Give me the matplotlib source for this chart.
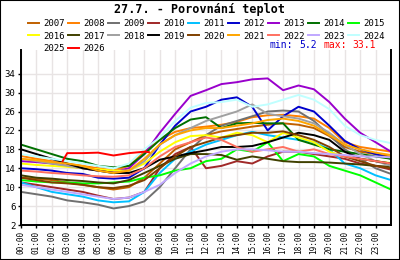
import matplotlib
matplotlib.use("Agg")
import matplotlib.pyplot as plt
from matplotlib.patches import Rectangle

hours = list(range(25))
hour_labels = [f"{h:02d}:00" for h in range(24)]
y_ticks = [2, 6, 10, 14, 18, 22, 26, 30, 34]

years = [str(y) for y in range(2007, 2027)]
colors = ["#C06000", "#FF8000", "#707070", "#A02828", "#00C0FF", "#0000CC",
          "#9900CC", "#007000", "#00FF00", "#FFFF00", "#404000", "#A0A0A0",
          "#000000", "#804000", "#FFA500", "#FF7060", "#C0A8FF", "#C0FFFF",
          "#FFFFFF", "#FF0000"]

t2007 = [12, 11.8, 11.5, 11, 10.5, 10, 9.5, 10, 12, 15, 18, 19.5, 21, 21.8, 22.3, 22.8, 23.2, 23.5, 23.2, 22.5, 20.8, 18.5, 17.5, 17, 16.4]
t2008 = [16.6, 16, 15.5, 15, 14.5, 14, 13.5, 14.5, 17.5, 20, 21.7, 22.5, 22.8, 23.2, 23.8, 24.8, 25.2, 25.3, 25, 24.5, 22.5, 19.5, 18.5, 18, 17.5]
t2009 = [9, 8.5, 8, 7.2, 6.8, 6.3, 5.5, 6, 7, 10, 14, 18, 21, 23, 24, 25, 26, 26.2, 26, 24, 21, 18, 16, 14, 12.8]
t2010 = [11, 10.5, 10, 9.5, 9, 8.2, 7.5, 7.8, 9, 14, 17, 18.5, 14, 14.5, 15.5, 15, 16.5, 17.5, 17.5, 17, 16.5, 16, 15, 14.5, 13.7]
t2011 = [11, 10, 9, 8.5, 8, 7.2, 6.8, 7, 9, 13, 16, 17.5, 19, 20, 21, 21.7, 21, 20.5, 20, 19.5, 18, 15, 14, 12.5, 11.5]
t2012 = [14, 13.8, 13.5, 13, 12.8, 12, 11.8, 12, 14, 19, 23, 26, 27, 28.5, 29, 27, 22, 25, 27, 26, 23, 19.8, 18, 17, 16]
t2013 = [15.5, 15.3, 15, 14.5, 14, 13.5, 13.2, 14, 17, 21.5, 25.5, 29.3, 30.5, 31.8, 32.2, 32.8, 33.0, 30.5, 31.5, 30.7, 28, 24.5, 21.5, 19.5, 17.5]
t2014 = [19, 18, 17, 16, 15.5, 14.5, 14.2, 14.5, 17, 20, 22.5, 24.3, 24.8, 22.5, 23.5, 23.6, 23.5, 23.5, 20, 19, 18, 17.5, 17, 16.5, 16]
t2015 = [11.5, 11.2, 11, 11, 10.8, 10.8, 11, 11.2, 12, 12.5, 13.5, 14, 15.5, 16, 18, 17.5, 19.5, 15.5, 17, 16.5, 14.5, 13.5, 12.5, 11, 9.5]
t2016 = [15, 14.7, 14.5, 14.3, 14, 13.8, 13.5, 13.5, 15, 17.5, 19.5, 20.8, 21, 20.5, 21.5, 21, 19.5, 21.5, 20.5, 19.5, 17.5, 16.5, 16, 15.5, 15.1]
t2017 = [12.5, 12, 11.8, 11.5, 11.3, 11, 10.8, 11.5, 13, 14.5, 16, 17, 17, 16.8, 15.8, 16.5, 16, 15.5, 15.3, 15.3, 15.2, 15, 14.8, 14.5, 14.3]
t2018 = [16, 15.5, 15, 14.5, 14, 13.5, 13, 13.5, 15.5, 19, 21, 22.5, 24, 25, 26, 27.5, 25.5, 25, 24.5, 23.5, 21.5, 19, 17, 15.5, 14.5]
t2019 = [18, 17, 16, 15, 14, 13.5, 13, 13, 14, 15.8, 16.5, 17.2, 17.8, 18.5, 18.5, 18.7, 19.5, 20.5, 21.5, 21, 20, 17.5, 16, 15.5, 15]
t2020 = [12, 11.5, 11, 10.8, 10.5, 10, 9.8, 10.3, 11.5, 14, 16.5, 18.5, 19.5, 20.5, 21, 21.5, 21.5, 21.8, 21, 20, 18.5, 16.5, 15.5, 14.5, 14]
t2021 = [16, 15.7, 15.3, 15, 14.5, 13.5, 13, 13.5, 16, 19, 21, 22, 22.5, 22.5, 23, 23.5, 24.2, 24.5, 24, 23, 21, 19, 18, 17.3, 16.8]
t2022 = [13.5, 13.3, 13, 12.8, 12.5, 12.3, 12.2, 12.5, 14, 16.5, 18.5, 19.5, 20.5, 20, 18.5, 17.5, 18, 18.5, 17.5, 18, 17, 16.5, 16, 15.5, 15]
t2023 = [10.5, 10, 9.5, 9, 8.5, 8, 7.5, 7.8, 9, 10.5, 13, 15, 16.5, 17.5, 18, 18, 17.8, 17.5, 17.5, 17.2, 17, 16.8, 16.5, 16.5, 16.3]
t2024 = [17, 16.5, 16, 15.5, 15, 14.5, 14, 15, 18, 20.5, 24, 26.8, 27.8, 28, 28.5, 27, 27.5, 28.5, 29.5, 28.5, 26.5, 23, 21, 20, 19.3]
t2025 = []
h2026 = [2.7, 3, 4, 5, 6, 7, 8, 8.3]
t2026 = [15.5, 17.2, 17.2, 17.3, 16.7, 17.2, 17.5, 17.4]

series = [t2007, t2008, t2009, t2010, t2011, t2012, t2013, t2014, t2015, t2016,
          t2017, t2018, t2019, t2020, t2021, t2022, t2023, t2024, t2025, t2026]

mono = "DejaVu Sans Mono"

fig = plt.figure(figsize=(4, 2.6), dpi=100)
ax = fig.add_axes([0.0525, 0.1346, 0.925, 0.673])

lines = []
for name, vals, col in zip(years, series, colors):
    xs = h2026 if name == "2026" else hours[:len(vals)]
    ln, = ax.plot(xs, vals, color=col, lw=1.4, label=name)
    lines.append(ln)

ax.set_xlim(0, 24)
ax.set_ylim(2, 39)
ax.set_xticks(range(24))
ax.set_xticklabels(hour_labels, rotation=90, fontsize=5.5, family=mono)
ax.set_yticks(y_ticks)
ax.set_yticklabels([str(v) for v in y_ticks], fontsize=6.5, family=mono)
ax.tick_params(axis="both", length=2.5, width=1, pad=1.5)
ax.grid(True, color="#E8E4E4", lw=1)
ax.set_axisbelow(True)
ax.spines["top"].set_visible(False)
for s in ["left", "bottom", "right"]:
    ax.spines[s].set_linewidth(1.4)

# legend fills column by column -> reorder so rows read 2007..2015, 2016..2024, 2025..
ncol = 9
order = []
for c in range(ncol):
    for r in range(3):
        i = r * ncol + c
        if i < len(lines):
            order.append(i)
fig.legend([lines[i] for i in order], [years[i] for i in order],
           loc="upper left", bbox_to_anchor=(0.07, 0.928), ncol=ncol,
           frameon=False, prop={"family": mono, "size": 6.5},
           handlelength=1.2, handletextpad=0.45, columnspacing=0.4,
           labelspacing=0.42, borderpad=0, borderaxespad=0)

fig.text(0.5, 0.965, "27.7. - Porovnání teplot", ha="center", va="center",
         fontsize=8.5, fontweight="bold", family=mono)
fig.text(0.675, 0.826, "min:", color="#0000CC", fontsize=7, family=mono, va="center")
fig.text(0.748, 0.826, "5.2", color="#0000CC", fontsize=7, family=mono, va="center")
fig.text(0.81, 0.826, "max:", color="#FF0000", fontsize=7, family=mono, va="center")
fig.text(0.88, 0.826, "33.1", color="#FF0000", fontsize=7, family=mono, va="center")

fig.patches.append(Rectangle((0, 0), 1, 1, transform=fig.transFigure, fill=False,
                             edgecolor="black", lw=1.5))

fig.savefig("out.png", dpi=100)
